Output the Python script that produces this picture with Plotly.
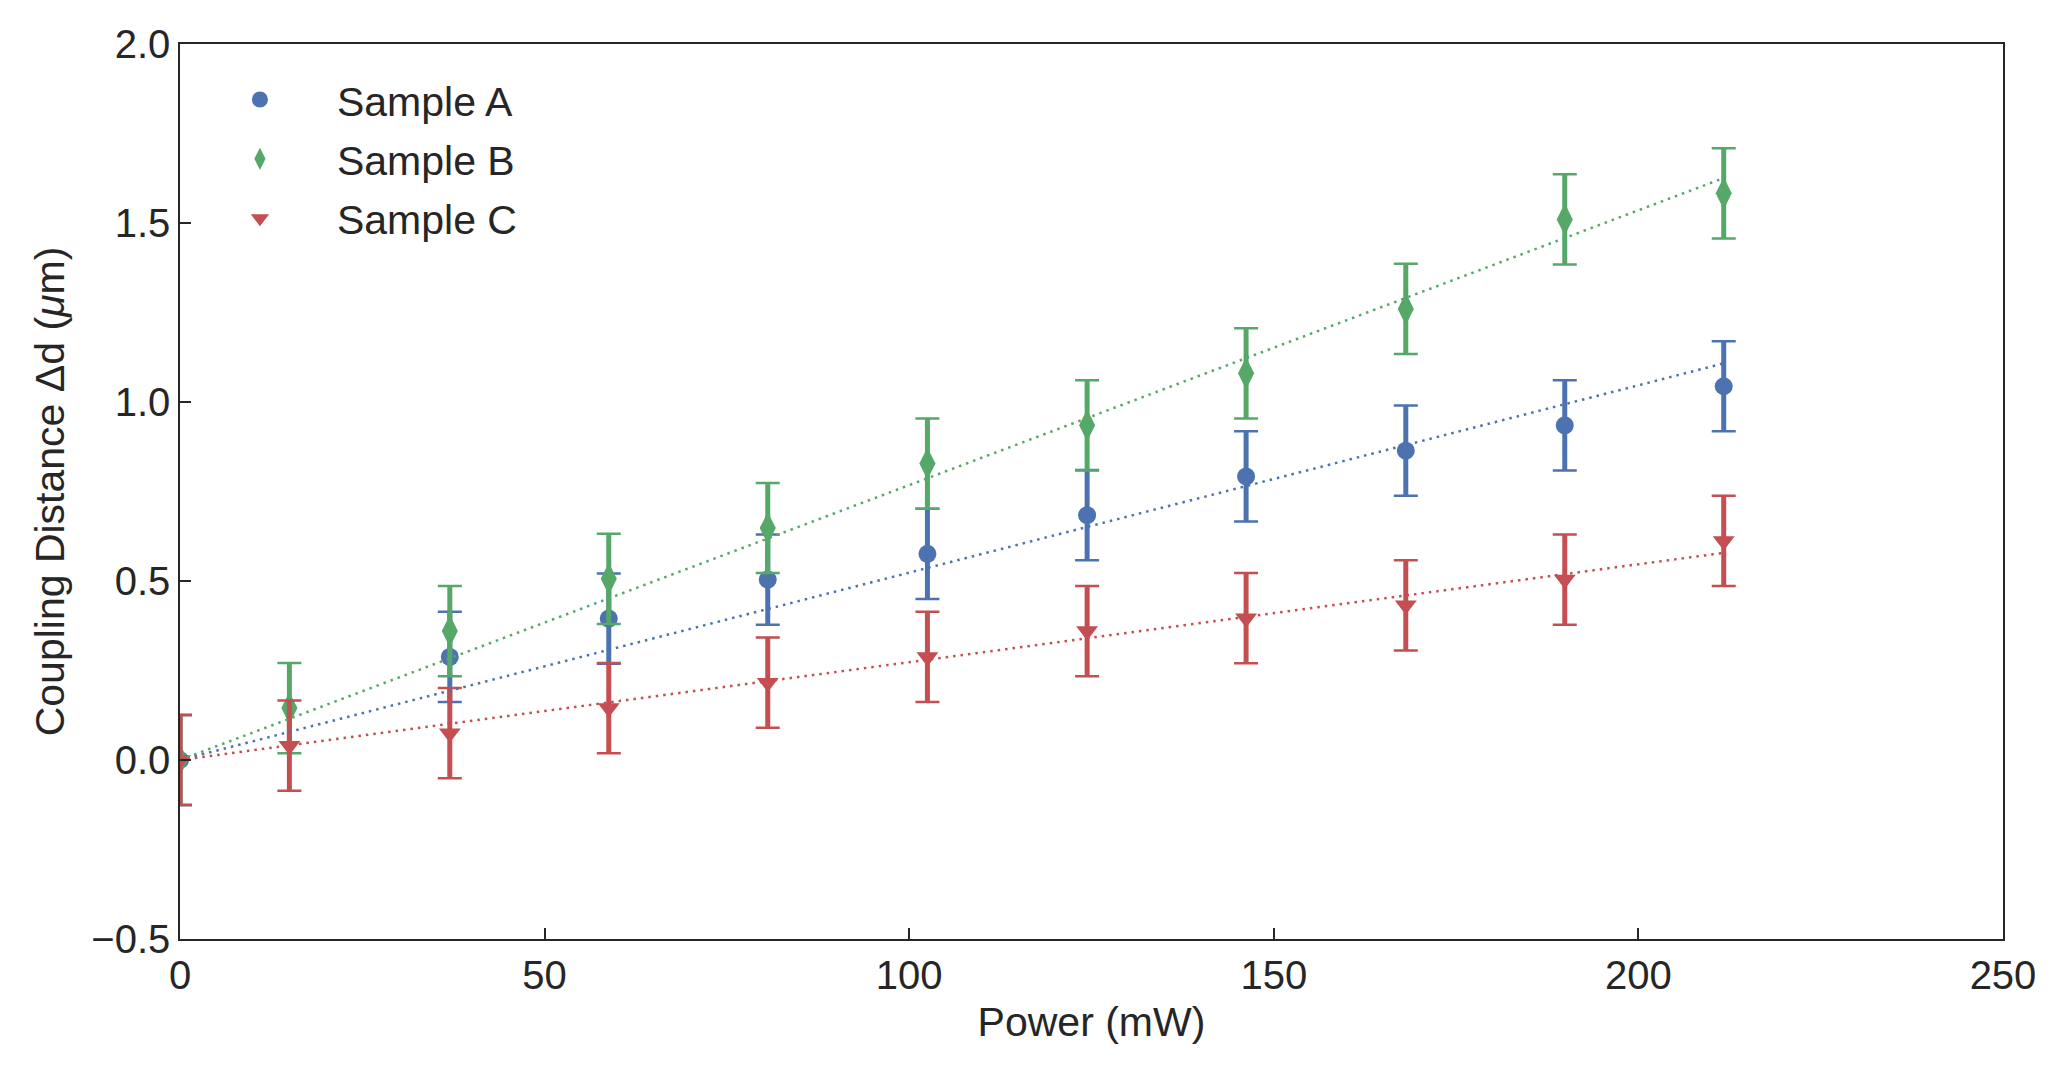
import numpy as np
import plotly.graph_objects as go

# ---- data ----
power_mw = [0, 15, 37, 58.8, 80.6, 102.5, 124.4, 146.2, 168.1, 189.9, 211.7]
sample_a = [0.0, None, 0.288, 0.395, 0.504, 0.576, 0.684, 0.792, 0.864, 0.935, 1.044]
sample_b = [0.0, 0.145, 0.360, 0.506, 0.648, 0.828, 0.935, 1.080, 1.260, 1.510, 1.583]
sample_c = [0.0, 0.040, 0.075, 0.145, 0.216, 0.288, 0.360, 0.396, 0.432, 0.504, 0.612]
err_a = [0.126] * 11
err_b = [0.126] * 11
err_c = [0.126] * 11

names = ["Sample A", "Sample B", "Sample C"]
colors = ["#4C72B0", "#55A868", "#C44E52"]
symbols = ["circle", "diamond-tall", "triangle-down"]
sizes = [18, 23, 19]

x_ticks = [0, 50, 100, 150, 200, 250]
y_ticks = [-0.5, 0.0, 0.5, 1.0, 1.5, 2.0]

FONT = "Liberation Sans, Arial, sans-serif"
TXT = "#262626"

fig = go.Figure()

series = [sample_a, sample_b, sample_c]
errs = [err_a, err_b, err_c]

for name, ys, es, col, sym, sz in zip(names, series, errs, colors, symbols, sizes):
    # thin caps
    fig.add_trace(go.Scatter(
        x=power_mw, y=ys, mode="markers", showlegend=False, hoverinfo="skip",
        marker=dict(size=1, color="rgba(0,0,0,0)"),
        error_y=dict(type="data", array=es, visible=True, color=col,
                     thickness=2.5, width=12),
    ))
    # thick bar + marker
    fig.add_trace(go.Scatter(
        x=power_mw, y=ys, mode="markers", name=name,
        legendgroup=name,
        marker=dict(symbol=sym, size=sz, color=col, line=dict(width=0)),
        error_y=dict(type="data", array=es, visible=True, color=col,
                     thickness=5, width=0),
    ))

# least-squares fit through origin (dotted lines)
for name, ys, col in zip(names, series, colors):
    xs = np.array([p for p, v in zip(power_mw, ys) if v is not None], dtype=float)
    vs = np.array([v for v in ys if v is not None], dtype=float)
    slope = float(np.sum(xs * vs) / np.sum(xs * xs))
    xl = [0.0, max(power_mw)]
    fig.add_trace(go.Scatter(
        x=xl, y=[slope * v for v in xl], mode="lines", showlegend=False,
        line=dict(color=col, width=2.5, dash="2.5px,5px"), hoverinfo="skip",
    ))

axis_common = dict(
    showgrid=False, zeroline=False, showline=True, mirror=True,
    linecolor=TXT, linewidth=1.5, ticks="inside", ticklen=11, tickwidth=1.5,
    tickcolor=TXT, tickfont=dict(family=FONT, size=40, color=TXT),
)

fig.update_layout(
    width=2065, height=1069,
    margin=dict(l=180, r=62, t=44, b=130),
    paper_bgcolor="white", plot_bgcolor="white",
    font=dict(family=FONT, color=TXT),
    xaxis=dict(range=[0, 250], tickvals=x_ticks,
               title=dict(text="Power (mW)", font=dict(family=FONT, size=41, color=TXT), standoff=12),
               **axis_common),
    yaxis=dict(range=[-0.5, 2.0], tickvals=y_ticks, tickformat=".1f",
               title=dict(text="Coupling Distance \u0394d (<i>\u03bc</i>m)",
                          font=dict(family=FONT, size=41, color=TXT), standoff=14),
               **axis_common),
    legend=dict(x=0.0016, y=0.975, xanchor="left", yanchor="top",
                bgcolor="rgba(0,0,0,0)", borderwidth=0,
                font=dict(family=FONT, size=41, color=TXT),
                itemwidth=144, tracegroupgap=3),
    showlegend=True,
)

fig.write_html("out.html")
